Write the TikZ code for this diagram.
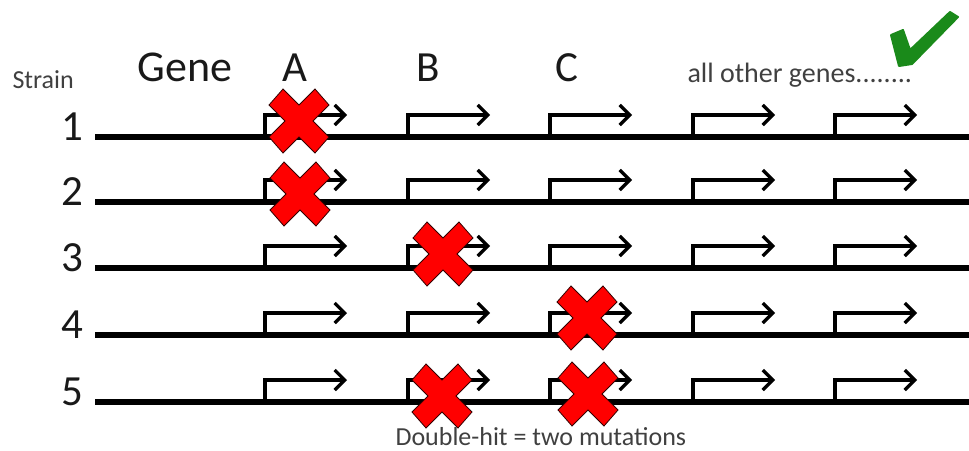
\documentclass[tikz,border=0pt]{standalone}
\usepackage{fontspec}
\setmainfont{Carlito}
\usetikzlibrary{arrows.meta}
\definecolor{txtgray}{HTML}{404040}
\definecolor{xred}{HTML}{FF0000}
\definecolor{chkgreen}{HTML}{1A8A1A}
\tikzset{
  dna/.style={line width=6.5pt, black},
  prom/.style={line width=3.2pt, black, -{Straight Barb[length=10pt,width=20pt,line width=3.2pt]}},
  xmark/.style={fill=xred, draw=black!80!red, line width=0.8pt, line join=miter},
  biglbl/.style={font=\fontsize{43}{43}\selectfont, text=black!90, anchor=base},
  smalllbl/.style={font=\fontsize{26}{26}\selectfont, text=txtgray, anchor=base west},
}
\newcommand{\mutx}[2]{%
  \path[xmark] (#1,#2) ++(-30,-16) -- ++(14,-16) -- ++(16,16) -- ++(16,-16) -- ++(14,16)
    -- ++(-16,16) -- ++(16,16) -- ++(-14,16) -- ++(-16,-16) -- ++(-16,16) -- ++(-14,-16)
    -- ++(16,-16) -- cycle;}
\begin{document}
\begin{tikzpicture}[x=1pt,y=-1pt]
\useasboundingbox (0,0) rectangle (969,450);
% header labels
\node[smalllbl] (strain) at (9,88) {Strain};
\node[biglbl, anchor=base west, font=\fontsize{44}{44}\selectfont] (gene) at (134,81) {Gene};
\node[biglbl] (ga) at (295,81) {A};
\node[biglbl] (gb) at (428,81) {B};
\node[biglbl] (gc) at (567,81) {C};
\node[smalllbl, font=\fontsize{28}{28}\selectfont] (other) at (684,82) {all other genes........};
% rows
\foreach \r/\y in {1/137,2/202,3/268,4/335,5/402}{
  \node[biglbl] (n\r) at (72,\y+3) {\r};
  \coordinate (ls\r) at (95,\y);
  \coordinate (le\r) at (969,\y);
  \draw[dna] (ls\r) -- (le\r);
  \foreach \g/\x in {1/265,2/408,3/550,4/693,5/835}{
    \coordinate (p\r\g) at (\x,\y-3);
    \coordinate (t\r\g) at (\x+82,\y-22);
    \draw[prom] (p\r\g) |- (t\r\g);
  }
}
% mutations
\mutx{299}{121}
\mutx{300}{194}
\mutx{443}{254}
\mutx{587}{318}
\mutx{442}{396}
\mutx{588}{394}
% check mark
\fill[chkgreen, draw=chkgreen, line width=2pt, line join=round]
  (891,35) -- (903,30) -- (910,50) -- (950,12) -- (958,17) -- (912,64) -- (899,66) -- cycle;
% bottom note
\node[smalllbl] (note) at (392,445) {Double-hit = two mutations};
\end{tikzpicture}
\end{document}
